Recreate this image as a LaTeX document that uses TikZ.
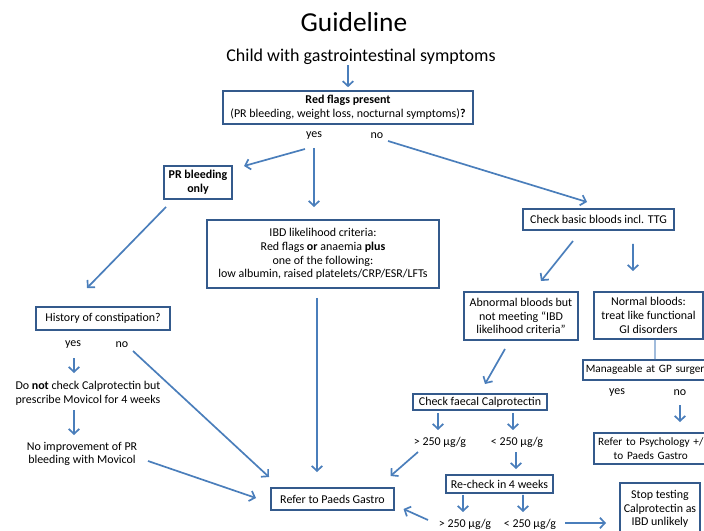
\documentclass[tikz,border=0pt]{standalone}
\usepackage{fontspec}
\setmainfont{Carlito}
\usetikzlibrary{positioning,calc}
\usetikzlibrary{arrows.meta}
\definecolor{boxblue}{RGB}{52,90,140}
\definecolor{arrowblue}{RGB}{74,126,187}
\tikzset{
        flownode/.style={align=center,inner sep=0pt,font=\fontsize{8.5}{9.7}\selectfont},
        % Boxed steps
        node_box/.style={flownode, draw=boxblue, line width=1.4pt, fill=white},
        % Boxes running off the right edge
        node_edge/.style={node_box, anchor=west, inner xsep=2pt, font=\fontsize{8}{9.7}\selectfont},
        % Plain text steps and answers
        node_text/.style={flownode},
        % Connectors
        link/.style={draw=arrowblue, line width=1.2pt, -{Straight Barb[length=3.5pt,width=7.5pt]}},
        link_plain/.style={draw=arrowblue!80, line width=1pt}
}
\begin{document}
\begin{tikzpicture}[x=0.025cm, y=-0.025cm]
            \useasboundingbox (0,0) rectangle (704,531);
            \node[flownode, font=\fontsize{19.5}{23}\selectfont] (title) at (354,22) {Guideline};
            \node[flownode, font=\fontsize{12.8}{15}\selectfont] (child) at (361,57) {Child with gastrointestinal symptoms};
            \node[node_box, minimum width=6.25cm, minimum height=0.825cm] (redflags) at (348,107.5)
                {\textbf{Red flags present}\\(PR bleeding, weight loss, nocturnal symptoms)\textbf{?}};
            \node[node_text] (yes1) at (314,136) {yes};
            \node[node_text] (no1) at (377,136) {no};
            % yes branch
            \node[node_box, minimum width=1.7cm, minimum height=0.825cm] (prbleed) at (198,182.5) {\textbf{PR bleeding}\\\textbf{only}};
            \node[node_box, minimum width=5.8cm, minimum height=1.7cm] (ibd) at (323,254)
                {IBD likelihood criteria:\\Red flags \textbf{or} anaemia \textbf{plus}\\one of the following:\\low albumin, raised platelets/CRP/ESR/LFTs};
            \node[node_box, minimum width=3.35cm, minimum height=0.575cm] (history) at (103,318.5) {History of constipation?};
            \node[node_text] (yes2) at (73,345) {yes};
            \node[node_text] (no2) at (122,345) {no};
            \node[node_text] (donot) at (88,393) {Do \textbf{not} check Calprotectin but\\prescribe Movicol for 4 weeks};
            \node[node_text] (noimp) at (82,454) {No improvement of PR\\bleeding with Movicol};
            \node[node_box, minimum width=3.075cm, minimum height=0.55cm] (refer) at (332.5,499) {Refer to Paeds Gastro};
            % no branch
            \node[node_box, minimum width=3.775cm, minimum height=0.525cm] (basic) at (598.5,219.5) {Check basic bloods incl. TTG};
            \node[node_box, minimum width=2.85cm, minimum height=1.2cm] (abnormal) at (521,316)
                {Abnormal bloods but\\not meeting “IBD\\likelihood criteria”};
            \node[node_box, minimum width=2.725cm, minimum height=1.175cm] (normal) at (648.5,315.5)
                {Normal bloods:\\treat like functional\\GI disorders};
            \node[node_edge, text width=3.4cm, align=left, minimum height=0.5cm] (manage) at (582,370)
                {Manageable at GP surger};
            \node[node_text] (yes3) at (617,393) {yes};
            \node[node_text] (no3) at (680,393) {no};
            \node[node_edge, text width=2.7cm, align=center, minimum height=0.775cm] (psych) at (593,448.5)
                {\mbox{Refer to Psychology +/}\\to Paeds Gastro};
            \node[node_box, minimum width=3.35cm, minimum height=0.4cm] (faecal) at (480,402) {Check faecal Calprotectin};
            \node[node_text] (gt1) at (440,442) {> 250 µg/g};
            \node[node_text] (lt1) at (517,442) {< 250 µg/g};
            \node[node_box, minimum width=2.675cm, minimum height=0.45cm] (recheck) at (499.5,484) {Re-check in 4 weeks};
            \node[node_text] (gt2) at (465,524) {> 250 µg/g};
            \node[node_text] (lt2) at (530,524) {< 250 µg/g};
            \node[node_box, minimum width=2cm, minimum height=1.3cm] (stop) at (660,509)
                {Stop testing\\Calprotectin as\\IBD unlikely};

            % connectors
            \draw[link, shorten >=2pt] (child.south -| redflags.north) -- (redflags.north);
            \draw[link] ($(yes1)+(-9,13)$) -- ($(prbleed.north east)+(11,1)$);
            \draw[link] ($(yes1)+(0,12)$) -- ($(ibd.north)+(-9,-12)$);
            \draw[link] ($(no1)+(11,5)$) -- ($(basic.north)+(-11.5,-6)$);
            \draw[link] ($(prbleed.south west)+(3,7)$) -- ($(history.north)+(-16,-18)$);
            \draw[link] ($(yes2)+(1,13)$) -- ($(donot)+(-14,-20)$);
            \draw[link] ($(donot)+(-14,17)$) -- ($(noimp)+(-8,-19)$);
            \draw[link] ($(noimp)+(66,7)$) -- ($(refer.west)+(-14,-1)$);
            \draw[link] ($(no2)+(11,6)$) -- ($(refer.north west)+(-1,-10)$);
            \draw[link] ($(ibd.south)+(-6,9)$) -- ($(refer.north)+(-15.5,-15)$);
            \draw[link] ($(basic.south)+(-25.5,10)$) -- ($(abnormal.north)+(20,-10)$);
            \draw[link] ($(basic.south)+(34.5,13)$) -- ($(normal.north)+(-15.5,-20)$);
            \draw[link_plain] ($(normal.south)+(6.5,0)$) -- ($(manage.north west)+(73,0)$);
            \draw[link] ($(no3)+(0,12)$) -- ($(psych.north west)+(87,-10)$);
            \draw[link] ($(abnormal.south)+(-16,8)$) -- ($(faecal.north)+(5,-9)$);
            \draw[link] ($(faecal.south)+(-42,2)$) -- ($(gt1)+(-2,-12)$);
            \draw[link] ($(faecal.south)+(33,2)$) -- ($(lt1)+(-4,-12)$);
            \draw[link] ($(gt1)+(-22,10)$) -- ($(refer.north east)+(-4.5,-11)$);
            \draw[link] ($(lt1)+(-1,10)$) -- ($(recheck.north)+(16.5,-5)$);
            \draw[link] ($(recheck.south)+(-36.5,1)$) -- ($(gt2)+(-2,-12)$);
            \draw[link] ($(recheck.south)+(23.5,1)$) -- ($(lt2)+(-7,-12)$);
            \draw[link] ($(gt2)+(-37,-4)$) -- ($(refer.south east)+(8.5,-2)$);
            \draw[link] ($(lt2)+(35,-1)$) -- ($(stop.west)+(-13,14)$);
\end{tikzpicture}
\end{document}
